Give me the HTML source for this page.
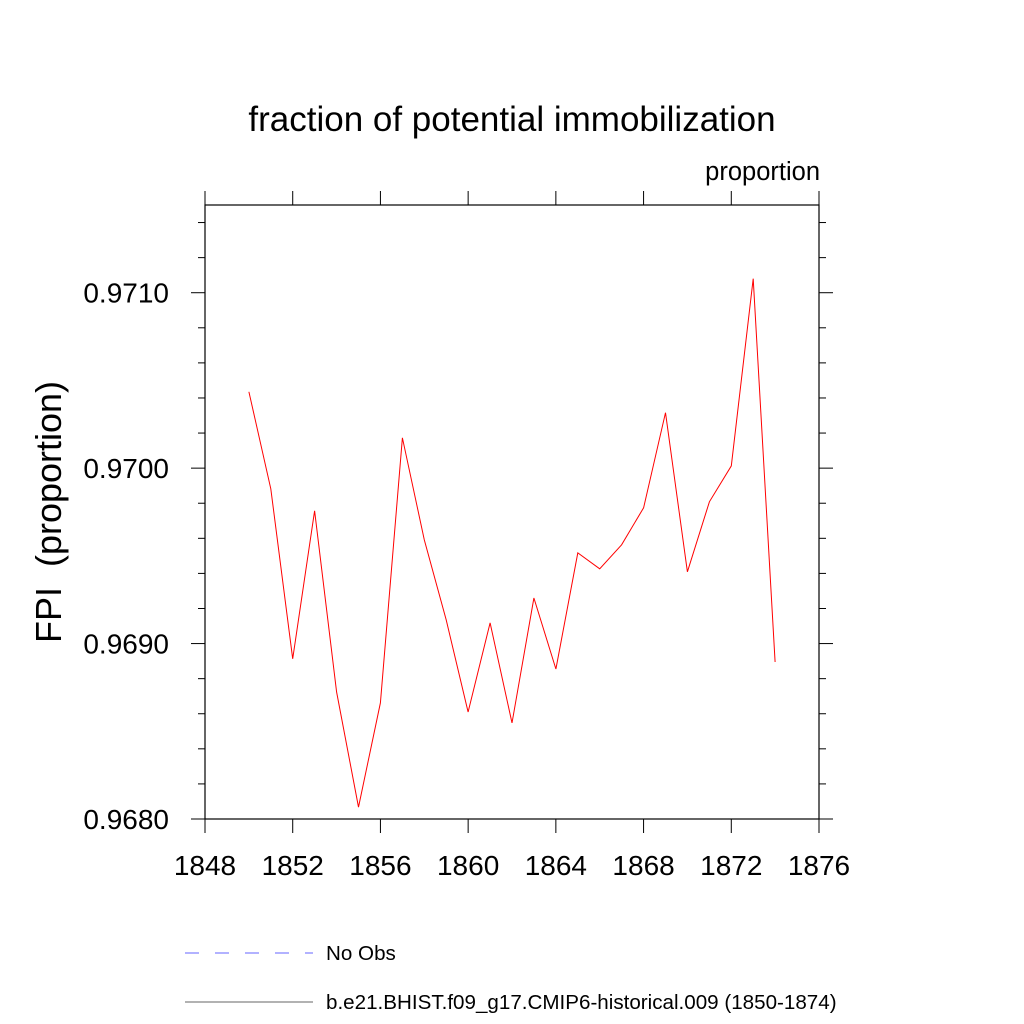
<!DOCTYPE html>
<html><head><meta charset="utf-8"><style>
body{margin:0;background:#fff;}
svg{display:block;font-family:"Liberation Sans",sans-serif;}
</style></head><body>
<svg id="chart" width="1024" height="1024" viewBox="0 0 1024 1024">
<text x="512" y="131" font-size="35" text-anchor="middle">fraction of potential immobilization</text>
<text x="820" y="180" font-size="25.5" text-anchor="end">proportion</text>
<text transform="translate(61,512) rotate(-90)" font-size="36" text-anchor="middle" style="white-space:pre">FPI  (proportion)</text>
<g id="axes"></g>
<rect x="205" y="205" width="614" height="614" fill="none" stroke="#000" stroke-width="1.2"/>
<path id="series" fill="none" stroke="#ff0000" stroke-width="1"/>
<line x1="185" y1="953" x2="313" y2="953" stroke="#6666ff" stroke-dasharray="14,16"/>
<text x="326" y="960" font-size="20.6">No Obs</text>
<line x1="185" y1="1002" x2="313" y2="1002" stroke="#666"/>
<text x="326" y="1009" font-size="20.6">b.e21.BHIST.f09_g17.CMIP6-historical.009 (1850-1874)</text>
</svg>
<script>
const years=[1850,1851,1852,1853,1854,1855,1856,1857,1858,1859,1860,1861,1862,1863,1864,1865,1866,1867,1868,1869,1870,1871,1872,1873,1874];
const values=[0.970435,0.969882,0.968913,0.969757,0.968724,0.968068,0.968662,0.970173,0.969591,0.969135,0.968610,0.969118,0.968548,0.969260,0.968855,0.969517,0.969426,0.969563,0.969774,0.970316,0.969409,0.969808,0.970013,0.971080,0.968895];
const xTicks=[1848,1852,1856,1860,1864,1868,1872,1876];
const yTicks=["0.9680","0.9690","0.9700","0.9710"];
const X0=1848,X1=1876,Y0=0.9680,Y1=0.97150,L=205,R=819,T=205,B=819;
const xs=v=>L+(v-X0)/(X1-X0)*(R-L);
const ys=v=>B-(v-Y0)/(Y1-Y0)*(B-T);
const NS="http://www.w3.org/2000/svg";
const g=document.getElementById('axes');
function ln(x1,y1,x2,y2,name){const e=document.createElementNS(NS,'line');
e.setAttribute('x1',x1);e.setAttribute('y1',y1);e.setAttribute('x2',x2);e.setAttribute('y2',y2);
e.setAttribute('stroke','#000');e.setAttribute('stroke-width','1');


g.appendChild(e);}
function tx(x,y,s,anchor,name){const e=document.createElementNS(NS,'text');
e.setAttribute('x',x);e.setAttribute('y',y);e.setAttribute('font-size','28');e.setAttribute('text-anchor',anchor);e.textContent=s;


g.appendChild(e);}
xTicks.forEach(v=>{const x=xs(v);ln(x,B,x,B+14,'x-tick');ln(x,T,x,T-14,'x-tick-top');tx(x,B+56,String(v),'middle','x-tick-label');});
for(let v=0.9680;v<=0.97151;v+=0.0002){const y=ys(v);const maj=Math.abs(Math.round(v*10000)-v*10000)<0.01&&Math.round(v*10000)%10===0;
const len=maj?14:7;ln(L,y,L-len,y,'y-tick');ln(R,y,R+len,y,'y-tick-right');}
yTicks.forEach(s=>{tx(L-36,ys(parseFloat(s))+10,s,'end','y-tick-label');});
let d='';years.forEach((yr,i)=>{d+=(i?'L':'M')+xs(yr).toFixed(1)+','+ys(values[i]).toFixed(1);});
document.getElementById('series').setAttribute('d',d);
</script>
</body></html>
